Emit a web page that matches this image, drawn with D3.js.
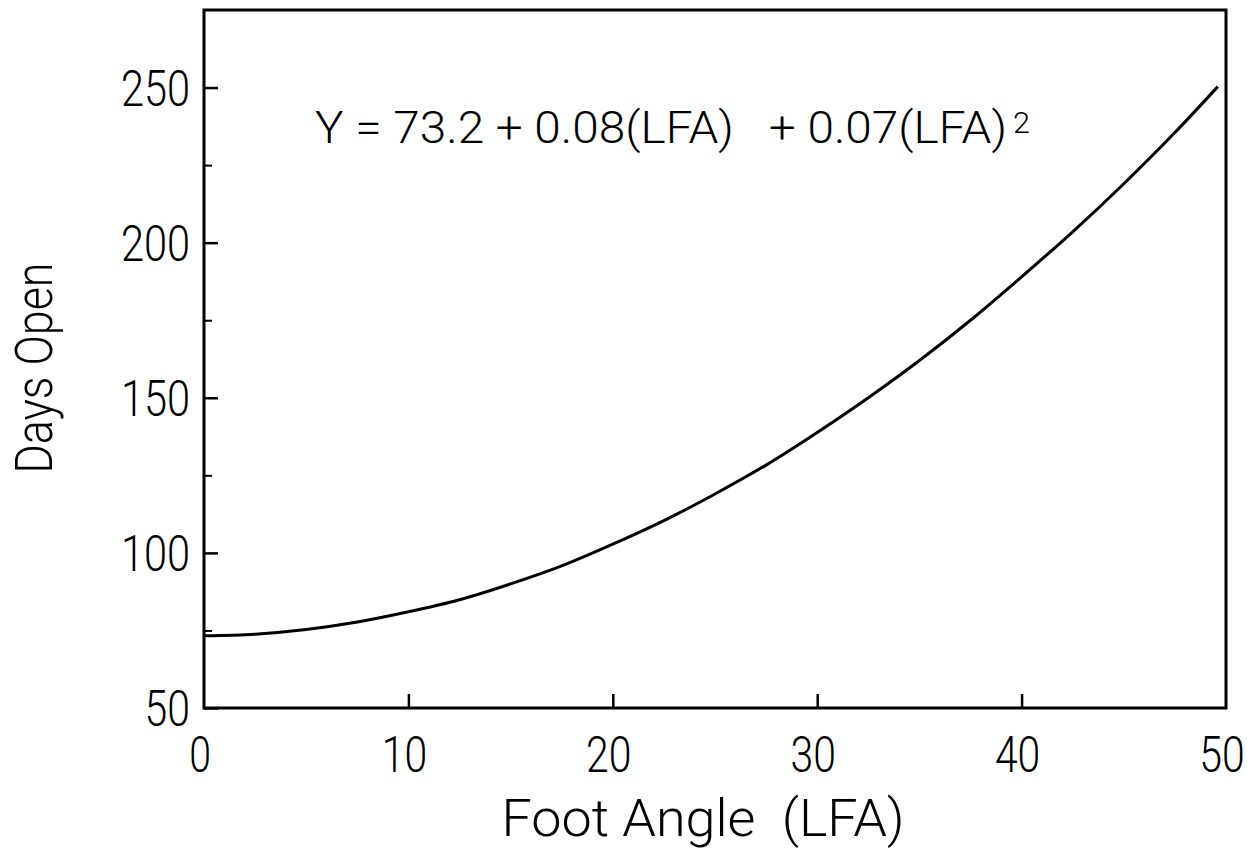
<!DOCTYPE html>
<html>
<head>
<meta charset="utf-8">
<title>Days Open vs Foot Angle</title>
<script src="https://cdn.jsdelivr.net/npm/d3@7"></script>
<style>
  body { margin: 0; background: #fff; }
  svg text { font-family: "Roboto", "DejaVu Sans", sans-serif; font-weight: 300; fill: #000; }
</style>
</head>
<body>
<svg id="main" width="1254" height="851"></svg>
<script>
// values
var lfa      = [0, 2.5, 5, 7.5, 10, 12.5, 15, 17.5, 20, 22.5, 25, 27.5, 30, 32.5, 35, 37.5, 40, 42.5, 45, 47.5, 49.6];
var daysOpen = [73.3, 73.8, 75.3, 77.7, 81, 84.9, 90, 95.8, 102.8, 110.4, 119, 128.3, 138.8, 150, 162, 175, 189, 203.5, 219, 235.5, 250.3];

var xTicks = [0, 10, 20, 30, 40, 50];
var yTicks = [50, 100, 150, 200, 250];
var yMinor = [75, 125, 175, 225];

var svg = d3.select("#main");
var pLeft = 204, pRight = 1226, pTop = 10, pBottom = 708;

var x = d3.scaleLinear().domain([0, 50]).range([pLeft, pRight]);
var y = d3.scaleLinear().domain([50, 275]).range([pBottom, pTop]);

// frame
svg.append("rect")
    .attr("x", pLeft).attr("y", pTop)
    .attr("width", pRight - pLeft).attr("height", pBottom - pTop)
    .attr("fill", "none").attr("stroke", "#000").attr("stroke-width", 3);

// y axis ticks (inward)
var yAxis = d3.axisRight(y).tickValues(yTicks).tickSize(14).tickFormat("");
svg.append("g").attr("transform", "translate(" + pLeft + ",0)").call(yAxis)
    .call(function(g) { g.select(".domain").remove(); })
    .selectAll("line").attr("stroke-width", 2.5);
var yAxisMinor = d3.axisRight(y).tickValues(yMinor).tickSize(8).tickFormat("");
svg.append("g").attr("transform", "translate(" + pLeft + ",0)").call(yAxisMinor)
    .call(function(g) { g.select(".domain").remove(); })
    .selectAll("line").attr("stroke-width", 2);

// x axis ticks (inward)
var xAxis = d3.axisTop(x).tickValues(xTicks.slice(1, -1)).tickSize(14).tickFormat("");
svg.append("g").attr("transform", "translate(0," + pBottom + ")").call(xAxis)
    .call(function(g) { g.select(".domain").remove(); })
    .selectAll("line").attr("stroke-width", 2.5);

// tick labels
svg.selectAll(".ylab").data(yTicks).enter().append("text")
    .attr("class", "ylab")
    .attr("x", 190)
    .attr("y", function(d) { return y(d) + 18; })
    .attr("text-anchor", "end")
    .attr("font-size", 50)
    .attr("textLength", function(d) { return String(d).length * 23.7 - 2; })
    .attr("lengthAdjust", "spacingAndGlyphs")
    .text(function(d) { return d; });

svg.selectAll(".xlab").data(xTicks).enter().append("text")
    .attr("class", "xlab")
    .attr("x", function(d) { return x(d) - 4; })
    .attr("y", 772)
    .attr("text-anchor", "middle")
    .attr("font-size", 50)
    .attr("textLength", function(d) { return String(d).length * 23.7 - 2; })
    .attr("lengthAdjust", "spacingAndGlyphs")
    .text(function(d) { return d; });

// curve
var line = d3.line()
    .x(function(d, i) { return x(lfa[i]); })
    .y(function(d) { return y(d); })
    .curve(d3.curveMonotoneX);
svg.append("path")
    .attr("d", line(daysOpen))
    .attr("fill", "none").attr("stroke", "#000").attr("stroke-width", 3);

// equation
svg.append("text")
    .attr("x", 315).attr("y", 143)
    .attr("font-size", 44)
    .attr("xml:space", "preserve")
    .attr("textLength", 692)
    .attr("lengthAdjust", "spacingAndGlyphs")
    .text("Y = 73.2 + 0.08(LFA)   + 0.07(LFA)");
svg.append("text")
    .attr("x", 1013).attr("y", 133)
    .attr("font-size", 30)
    .attr("textLength", 17)
    .attr("lengthAdjust", "spacingAndGlyphs")
    .text("2");

// axis titles
svg.append("text")
    .attr("x", 703).attr("y", 836)
    .attr("text-anchor", "middle")
    .attr("font-size", 52)
    .attr("textLength", 403)
    .attr("lengthAdjust", "spacingAndGlyphs")
    .attr("xml:space", "preserve")
    .text("Foot Angle  (LFA)");

svg.append("text")
    .attr("transform", "translate(52,368) rotate(-90)")
    .attr("text-anchor", "middle")
    .attr("font-size", 52)
    .attr("textLength", 211)
    .attr("lengthAdjust", "spacingAndGlyphs")
    .text("Days Open");
</script>
</body>
</html>
